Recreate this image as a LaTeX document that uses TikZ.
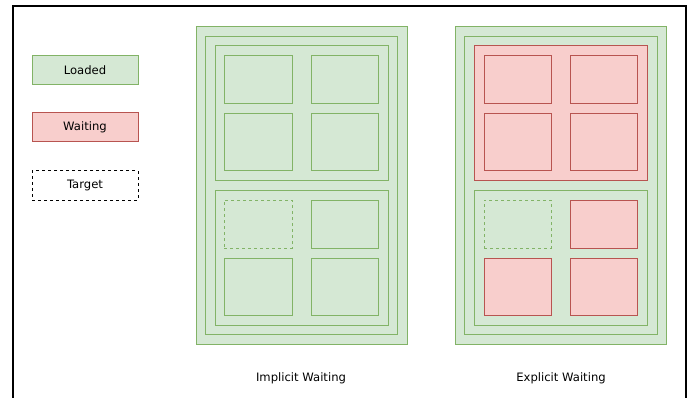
\documentclass[tikz,border=0pt]{standalone}
\usepackage{fontspec}
\setmainfont{DejaVu Sans}
\usetikzlibrary{positioning}
\definecolor{LoadFill}{HTML}{D5E8D4}
\definecolor{LoadLine}{HTML}{82B366}
\definecolor{WaitFill}{HTML}{F8CECC}
\definecolor{WaitLine}{HTML}{B85450}
\tikzset{
  pane/.style={rectangle,inner sep=0pt,outer sep=0pt,line width=1pt,font=\fontsize{11.6}{13}\selectfont},
  loaded/.style={pane,fill=LoadFill,draw=LoadLine},
  waiting/.style={pane,fill=WaitFill,draw=WaitLine},
  target/.style={pane,fill=white,draw=black,dashed},
  pending/.style={pane,fill=LoadFill,draw=LoadLine,dashed},
  caption/.style={font=\fontsize{11.6}{13}\selectfont,inner sep=0pt}
}
\newcommand{\Pane}[7]{%
  \node[#2,minimum width={(#5-#3)*1pt},minimum height={(#6-#4)*1pt}] (#1) at ({(#3+#5)/2},{(#4+#6)/2}) {#7};%
}

\begin{document}
\begin{tikzpicture}[x=1pt,y=-1pt]
\useasboundingbox (0,0) rectangle (690,398);
\draw[line width=2pt] (13,398) -- (13,6) -- (686,6) -- (686,398);
% legend
\Pane{legLoaded}{loaded}{32}{56}{138}{85}{Loaded}
\Pane{legWaiting}{waiting}{32}{113}{138}{142}{Waiting}
\Pane{legTarget}{target}{32}{171}{138}{200}{Target}
% implicit waiting
\Pane{impOuter}{loaded}{196}{27}{407}{344}{}
\Pane{impInner}{loaded}{205}{37}{397}{334}{}
\Pane{impTop}{loaded}{215}{46}{388}{181}{}
\Pane{impBot}{loaded}{215}{190}{388}{325}{}
\Pane{impA}{loaded}{224}{56}{292}{104}{}
\Pane{impB}{loaded}{311}{56}{378}{104}{}
\Pane{impC}{loaded}{224}{114}{292}{171}{}
\Pane{impD}{loaded}{311}{114}{378}{171}{}
\Pane{impE}{pending}{224}{200}{292}{248}{}
\Pane{impF}{loaded}{311}{200}{378}{248}{}
\Pane{impG}{loaded}{224}{258}{292}{315}{}
\Pane{impH}{loaded}{311}{258}{378}{315}{}
\node[caption] (impCap) at (301,378) {Implicit Waiting};
% explicit waiting
\Pane{expOuter}{loaded}{455}{27}{666}{344}{}
\Pane{expInner}{loaded}{464}{37}{657}{334}{}
\Pane{expTop}{waiting}{474}{46}{647}{181}{}
\Pane{expBot}{loaded}{474}{190}{647}{325}{}
\Pane{expA}{waiting}{484}{56}{551}{104}{}
\Pane{expB}{waiting}{570}{56}{637}{104}{}
\Pane{expC}{waiting}{484}{114}{551}{171}{}
\Pane{expD}{waiting}{570}{114}{637}{171}{}
\Pane{expE}{pending}{484}{200}{551}{248}{}
\Pane{expF}{waiting}{570}{200}{637}{248}{}
\Pane{expG}{waiting}{484}{258}{551}{315}{}
\Pane{expH}{waiting}{570}{258}{637}{315}{}
\node[caption] (expCap) at (561,378) {Explicit Waiting};
\end{tikzpicture}
\end{document}
